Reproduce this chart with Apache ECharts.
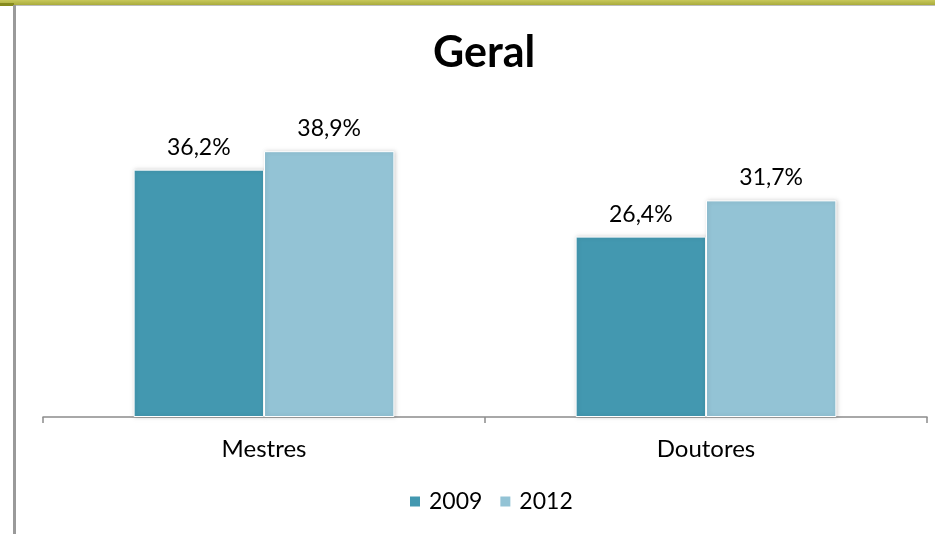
<!DOCTYPE html>
<html>
<head>
<meta charset="utf-8">
<script src="https://cdn.jsdelivr.net/npm/echarts@6/dist/echarts.min.js"></script>
<style>
    html, body { margin: 0; padding: 0; background: #fff; }
    #chart { width: 935px; height: 534px; }
</style>
</head>
<body>
<div id="chart"></div>
<script>
// dados do gráfico
const categories = ["Mestres", "Doutores"];
const seriesNames = ["2009", "2012"];
const values2009 = [36.2, 26.4];
const values2012 = [38.9, 31.7];

const fontFam = "Lato, 'Open Sans', sans-serif";

let myChart = echarts.init(document.getElementById("chart"));

function fmt(p) {
    return p.value.toFixed(1).replace(".", ",") + "%";
}

function barLabel() {
    return {
        show: true,
        position: "top",
        distance: 11,
        formatter: fmt,
        fontFamily: fontFam,
        fontSize: 23,
        color: "#000",
    };
}

myChart.setOption({
    animation: false,
    backgroundColor: "#fff",
    title: {
        text: "Geral",
        left: 428,
        top: 27,
        textStyle: { fontFamily: fontFam, fontSize: 43, fontWeight: "bold", color: "#000" },
    },
    legend: {
        data: seriesNames,
        top: 485,
        left: 403,
        itemWidth: 12,
        itemHeight: 12,
        itemGap: 16,
        icon: "rect",
        textStyle: { fontFamily: fontFam, fontSize: 23, color: "#000", padding: [0, 0, 0, 3] },
    },
    grid: { left: 43, right: 8, top: 7, bottom: 117 },
    xAxis: {
        type: "category",
        data: categories,
        axisLine: { lineStyle: { color: "#8c8c8c", width: 1.5 } },
        axisTick: { show: true, length: 6, lineStyle: { color: "#8c8c8c", width: 1.5 } },
        axisLabel: { fontFamily: fontFam, fontSize: 24, color: "#000", margin: 20 },
    },
    yAxis: {
        type: "value",
        min: 0,
        max: 60,
        show: false,
        splitLine: { show: false },
    },
    series: [
        {
            name: seriesNames[0],
            type: "bar",
            data: values2009,
            barWidth: "29.5%",
            barGap: "0%",
            itemStyle: {
                color: "#4398b0",
                borderColor: "#fff",
                borderWidth: 1,
                shadowColor: "rgba(0,0,0,0.18)",
                shadowBlur: 4,
                shadowOffsetX: 1,
            },
            label: barLabel(),
        },
        {
            name: seriesNames[1],
            type: "bar",
            data: values2012,
            barWidth: "29.5%",
            itemStyle: {
                color: "#93c3d5",
                borderColor: "#fff",
                borderWidth: 1,
                shadowColor: "rgba(0,0,0,0.18)",
                shadowBlur: 4,
                shadowOffsetX: 1,
            },
            label: barLabel(),
        },
    ],
    // moldura do slide: faixa verde-oliva no topo e linha cinza à esquerda
    graphic: [
        {
            type: "rect",
            shape: { x: 0, y: 0, width: 935, height: 5 },
            style: {
                fill: {
                    type: "linear", x: 0, y: 0, x2: 0, y2: 1,
                    colorStops: [
                        { offset: 0, color: "#c8c85a" },
                        { offset: 1, color: "#a9ab3c" },
                    ],
                },
            },
            silent: true,
        },
        {
            type: "rect",
            shape: { x: 0, y: 3, width: 14, height: 3 },
            style: { fill: "#868a1e" },
            silent: true,
        },
        {
            type: "rect",
            shape: { x: 13, y: 5, width: 3, height: 529 },
            style: { fill: "#9a9a9a" },
            silent: true,
        },
        {
            type: "rect",
            shape: { x: 16, y: 5, width: 919, height: 1 },
            style: { fill: "#bdbdbd" },
            silent: true,
        },
    ],
});
</script>
</body>
</html>
